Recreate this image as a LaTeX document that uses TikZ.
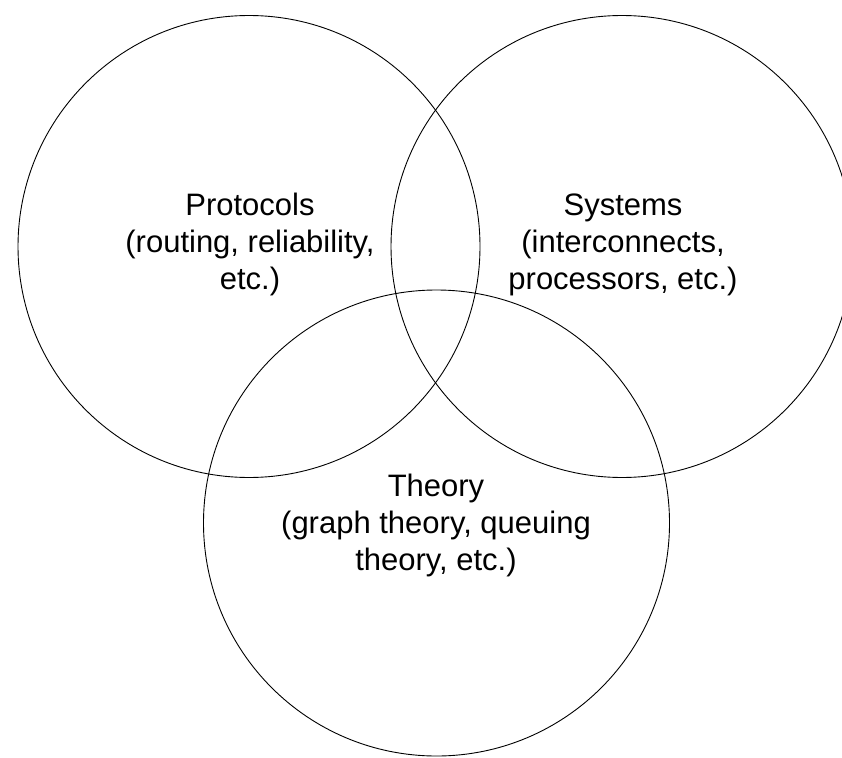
\documentclass[tikz,border=0pt]{standalone}
\usepackage{fontspec}
\setmainfont{Liberation Sans}
\begin{document}
\begin{tikzpicture}[x=1pt,y=-1pt,
  ring/.style={draw=black,line width=0.9pt,circle,inner sep=0pt},
  lbl/.style={align=center,font=\fontsize{31}{37}\selectfont,inner sep=0pt,anchor=base}]
\useasboundingbox (0,0) rectangle (842,757);
\clip (0,0) rectangle (842,757);
\node[ring,minimum size=462pt] (prot) at (249,246.5) {};
\node[ring,minimum size=462pt] (sys) at (622,246.5) {};
\node[ring,minimum size=466pt] (theo) at (436.5,523) {};
\node[lbl] (protl) at (250,289) {Protocols\\(routing, reliability,\\etc.)};
\node[lbl] (sysl) at (623,289) {Systems\\(interconnects,\\processors, etc.)};
\node[lbl] (theol) at (436,570) {Theory\\(graph theory, queuing\\theory, etc.)};
\end{tikzpicture}
\end{document}
